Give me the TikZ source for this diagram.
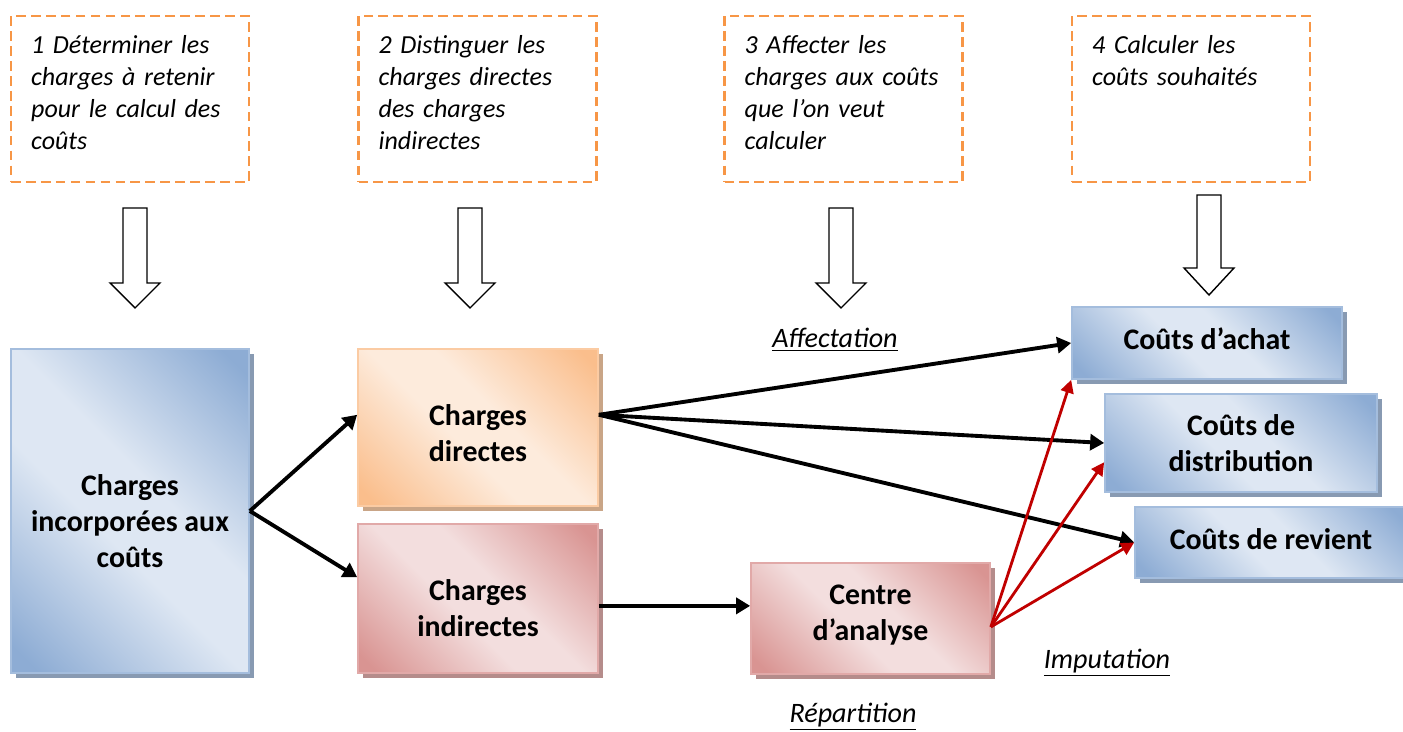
\documentclass[tikz,border=0pt]{standalone}
\usepackage{fontspec}
\setmainfont{Carlito}
\usetikzlibrary{arrows.meta,shadows}
\definecolor{orangetrait}{RGB}{247,150,70}
\definecolor{bleufonce}{RGB}{141,172,212}
\definecolor{bleuclair}{RGB}{222,231,243}
\definecolor{orangefonce}{RGB}{250,190,140}
\definecolor{orangeclair}{RGB}{253,235,220}
\definecolor{rougefonce}{RGB}{217,148,146}
\definecolor{rougeclair}{RGB}{243,222,222}
\definecolor{rougefleche}{RGB}{192,0,0}
\pgfdeclarehorizontalshading{refletbleu}{100bp}{color(0bp)=(bleufonce); color(18bp)=(bleufonce); color(44bp)=(bleuclair); color(56bp)=(bleuclair); color(82bp)=(bleufonce); color(100bp)=(bleufonce)}
\pgfdeclarehorizontalshading{refletorange}{100bp}{color(0bp)=(orangefonce); color(18bp)=(orangefonce); color(44bp)=(orangeclair); color(56bp)=(orangeclair); color(82bp)=(orangefonce); color(100bp)=(orangefonce)}
\pgfdeclarehorizontalshading{refletrouge}{100bp}{color(0bp)=(rougefonce); color(18bp)=(rougefonce); color(44bp)=(rougeclair); color(56bp)=(rougeclair); color(82bp)=(rougefonce); color(100bp)=(rougefonce)}
\tikzset{
  etape/.style={draw=orangetrait, line width=1.4pt, dash pattern=on 5.5pt off 3pt, minimum width=4.76cm, minimum height=3.32cm},
  etapetexte/.style={anchor=north west, inner sep=0pt, text width=4.3cm, align=left, font=\itshape\fontsize{14.8}{18.2}\selectfont},
  boite/.style={shading=reflet#1, shading angle=45, draw=#1fonce!80, line width=1pt,
    drop shadow={shadow xshift=2.8pt, shadow yshift=-2.8pt, fill=#1fonce!60!gray, opacity=1},
    align=center, font=\bfseries\fontsize{17}{20.5}\selectfont},
  fleche/.style={line width=2.2pt, -{Triangle[length=0.28cm,width=0.32cm]}},
  flecherouge/.style={rougefleche, line width=1.6pt, -{Triangle[length=0.26cm,width=0.26cm]}},
  flecheblanche/.style={draw, line width=0.8pt, fill=white},
  etiquette/.style={font=\itshape\fontsize{16}{19}\selectfont}
}
\begin{document}
\begin{tikzpicture}[x=0.02cm, y=-0.02cm]
  \useasboundingbox (0,0) rectangle (1403,732);
  % les quatre etapes
  \node[etape] (etape1) at (130,99) {};
  \node[etape] (etape2) at (477.5,99) {};
  \node[etape] (etape3) at (843.5,99) {};
  \node[etape] (etape4) at (1191,99) {};
  \node[etapetexte] (texte1) at ([shift={(21,20)}]etape1.north west) {1 Déterminer les\\charges à retenir\\pour le calcul des\\coûts};
  \node[etapetexte] (texte2) at ([shift={(21,20)}]etape2.north west) {2 Distinguer les\\charges directes\\des charges\\indirectes};
  \node[etapetexte] (texte3) at ([shift={(21,20)}]etape3.north west) {3 Affecter les\\charges aux coûts\\que l’on veut\\calculer};
  \node[etapetexte] (texte4) at ([shift={(21,20)}]etape4.north west) {4 Calculer les\\coûts souhaités};
  % fleches creuses
  \foreach \cx/\ht/\hb/\hp in {135/208/283/308, 470/208/283/308, 841/208/283/308, 1209/195/268/295} {
    \draw[flecheblanche] (\cx-12,\ht) -- (\cx+12,\ht) -- (\cx+12,\hb) -- (\cx+25,\hb)
      -- (\cx,\hp) -- (\cx-25,\hb) -- (\cx-12,\hb) -- cycle;
  }
  % les charges
  \node[boite=bleu, minimum width=4.76cm, minimum height=6.48cm, text height=65pt] (incorp) at (130,511) {Charges\\incorporées aux\\coûts};
  \node[boite=orange, minimum width=4.8cm, minimum height=3.14cm, text height=38.5pt] (directes) at (478,427.5) {Charges\\directes};
  \node[boite=rouge, minimum width=4.8cm, minimum height=2.98cm, text height=43.5pt] (indirectes) at (478,598.5) {Charges\\indirectes};
  \node[boite=rouge, minimum width=4.78cm, minimum height=2.22cm, text depth=7pt] (centre) at (870.5,618.5) {Centre\\d’analyse};
  % les couts
  \node[boite=bleu, minimum width=5.4cm, minimum height=1.44cm, text depth=4.5pt] (achat) at (1207,343) {Coûts d’achat};
  \node[boite=bleu, minimum width=5.44cm, minimum height=1.96cm] (distribution) at (1241,443) {Coûts de\\distribution};
  \node[boite=bleu, minimum width=5.44cm, minimum height=1.42cm, text depth=4.5pt] (revient) at (1271,542.5) {Coûts de revient};
  % liaisons
  \draw[fleche] (incorp.east) -- (directes.174);
  \draw[fleche] (incorp.east) -- (indirectes.170);
  \draw[fleche] (directes.6) -- (achat.west);
  \draw[fleche] (directes.6) -- (distribution.west);
  \draw[fleche] (directes.6) -- (revient.west);
  \draw[fleche] (indirectes.east |- centre.174) -- (centre.174);
  \draw[flecherouge] (centre.-4) -- (achat.south west);
  \draw[flecherouge] (centre.-4) -- (distribution.188);
  \draw[flecherouge] (centre.-4) -- (revient.west);
  % etiquettes
  \node[etiquette] (affectation) at (835,340) {\underline{Affectation}};
  \node[etiquette] (imputation) at (1107,663) {\underline{Imputation}};
  \node[etiquette] (repartition) at (853,717) {\underline{Répartition}};
\end{tikzpicture}
\end{document}
